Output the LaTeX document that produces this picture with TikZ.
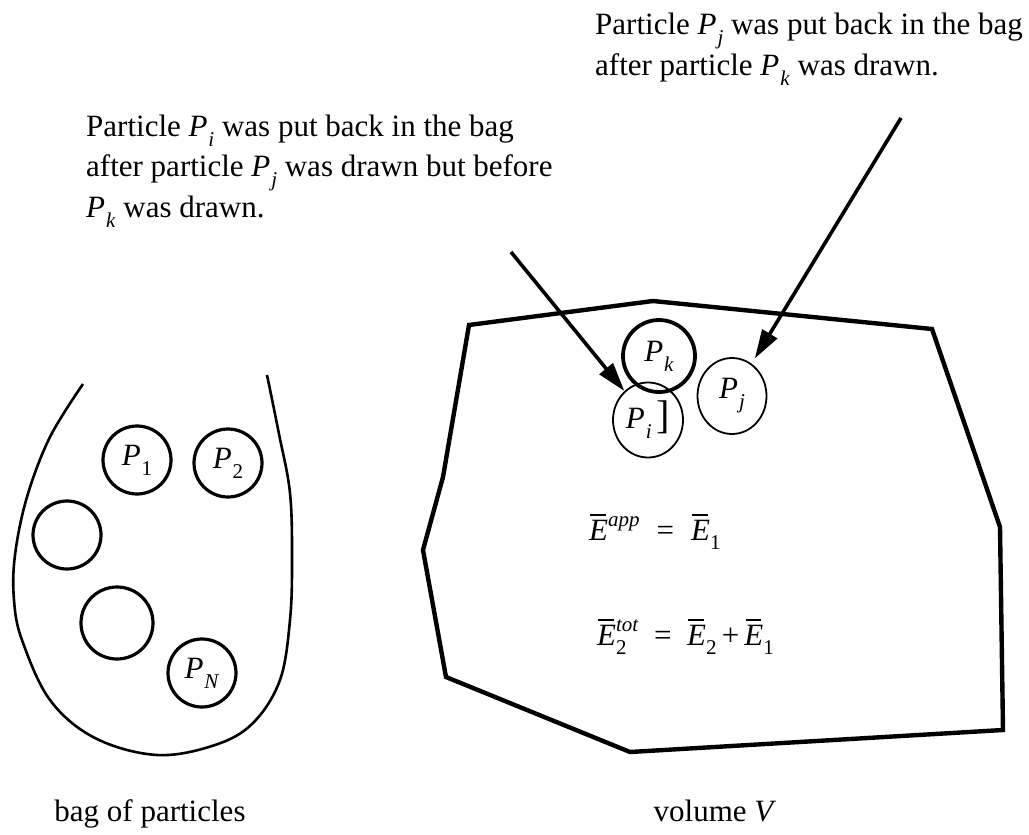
\documentclass[tikz,border=0pt]{standalone}
\usepackage{fontspec}
\setmainfont{Liberation Serif}
\usetikzlibrary{arrows.meta,shapes.geometric}
\newcommand{\subfont}{\fontsize{21}{21}\selectfont}
\newcommand{\Pv}[1]{\textit{P}\kern0.03em\raisebox{-0.32em}{\subfont\textit{#1}}}
\newcommand{\Pn}[1]{\textit{P}\kern0.03em\raisebox{-0.32em}{\subfont #1}}
\newcommand{\Eb}{\makebox[0pt][l]{\kern0.04em\rule[0.78em]{0.5em}{0.06em}}\textit{E}}
\newcommand{\Esub}[1]{\raisebox{-0.3em}{\subfont #1}}
\newcommand{\Esup}[1]{\raisebox{0.45em}{\subfont\textit{#1}}}
\tikzset{
  txt/.style={font=\fontsize{31}{40.5}\selectfont, inner sep=0pt},
  para/.style={txt, align=left, anchor=north west},
  ball/.style={circle, draw, line width=3.2pt, inner sep=0pt, minimum size=68pt, font=\fontsize{31}{31}\selectfont},
  thinball/.style={ellipse, draw, line width=1.8pt, inner sep=0pt, minimum width=70pt, minimum height=75pt, font=\fontsize{31}{31}\selectfont},
  arr/.style={line width=3.6pt, -{Triangle[length=29pt,width=17pt]}},
  bagline/.style={line width=2.6pt},
  volline/.style={line width=4.4pt, line join=miter},
}
\begin{document}
\begin{tikzpicture}[x=1pt,y=-1pt]
\useasboundingbox (0,0) rectangle (1029,835);

% texts
\node[para] (tj) at (595,13) {Particle \Pv{j} was put back in the bag\\after particle \Pv{k} was drawn.};
\node[para] (ti) at (86,114.5) {Particle \Pv{i} was put back in the bag\\after particle \Pv{j} was drawn but before\\\Pv{k} was drawn.};

% bag
\draw[bagline] plot[smooth, tension=0.6] coordinates {(83,384) (50,437) (27,497) (15,555) (14,600) (22,640) (50,700) (95,738) (157,755) (215,745) (253,723) (280,680) (290,620) (292,560) (290,493) (279,434) (267,375)};
\node[ball] (p1) at (137,460) {\Pn{1}};
\node[ball] (p2) at (228,463) {\Pn{2}};
\node[ball] (e1) at (67,535) {};
\node[ball, minimum height=72pt] (e2) at (117,623) {};
\node[ball] (pn) at (202,673) {\Pv{N}};
\node[txt, anchor=base] (bagl) at (150,821) {bag of particles};

% volume
\draw[volline] (469,325) -- (653,301) -- (932,329) -- (1000,527) -- (1003,730) -- (630,752) -- (446,677) -- (423,550) -- (443,477) -- cycle;
\node[ball, line width=3.8pt, minimum size=72pt] (pk) at (659,356) {\Pv{k}};
\node[thinball] (pi) at (648,420) {\Pv{i}\,{\fontsize{40}{40}\selectfont]}};
\node[thinball, minimum width=69pt, minimum height=76pt] (pj) at (732,396) {\Pv{j}};
\node[txt, anchor=base west] (eq1) at (589,540) {\Eb\Esup{app}\hspace{0.55em}=\hspace{0.55em}\Eb\Esub{1}};
\node[txt, anchor=base west] (eq2) at (597,645) {\Eb\rlap{\Esub{2}}\Esup{tot}\hspace{0.5em}=\hspace{0.5em}\Eb\Esub{2}\,+\,\Eb\Esub{1}};
\node[txt, anchor=base] (voll) at (715,821) {volume \textit{V}};

% arrows
\coordinate (la) at (511,252);
\coordinate (ra) at (901,118);
\draw[arr] (la) -- (pi);
\draw[arr, shorten >=6pt] (ra) -- (pj);
\end{tikzpicture}
\end{document}
